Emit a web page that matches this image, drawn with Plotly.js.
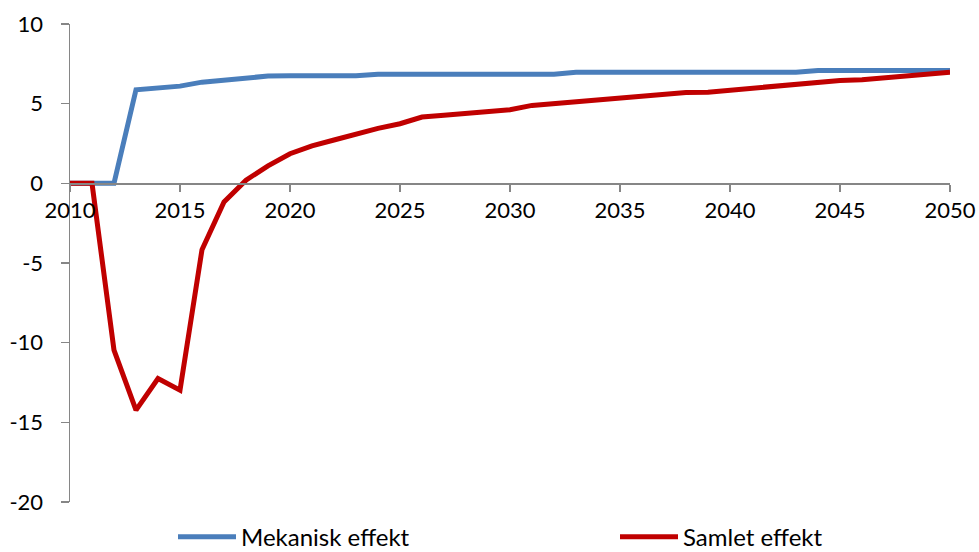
<!DOCTYPE html>
<html>
<head>
<meta charset="utf-8">
<script src="https://cdn.plot.ly/plotly-3.0.1.min.js"></script>
<style>html,body{margin:0;padding:0;background:#fff;}#chart{width:979px;height:552px;}</style>
</head>
<body>
<div id="chart"></div>
<script>
const years = [];
for (let y = 2010; y <= 2050; y++) years.push(y);

const mekaniskName = "Mekanisk effekt";
const samletName = "Samlet effekt";

const mekanisk = [0, 0, 0, 5.87, 6.0, 6.1, 6.35, 6.5, 6.62, 6.73,
  6.75, 6.75, 6.75, 6.75, 6.85, 6.85, 6.85, 6.85, 6.85, 6.85,
  6.85, 6.85, 6.85, 6.97, 6.97, 6.97, 6.97, 6.97, 6.97, 6.97,
  6.97, 6.97, 6.97, 6.97, 7.08, 7.08, 7.08, 7.08, 7.08, 7.08, 7.08];

const samlet = [0, 0, -10.47, -14.23, -12.25, -12.98, -4.16, -1.17, 0.2, 1.1,
  1.86, 2.35, 2.72, 3.1, 3.45, 3.74, 4.16, 4.28, 4.4, 4.51,
  4.62, 4.89, 5.0, 5.1, 5.2, 5.31, 5.42, 5.55, 5.7, 5.72,
  5.85, 5.97, 6.1, 6.22, 6.35, 6.46, 6.5, 6.62, 6.75, 6.87, 6.98];

const xTicks = [2010, 2015, 2020, 2025, 2030, 2035, 2040, 2045, 2050];
const yTicks = [10, 5, 0, -5, -10, -15, -20];

const fontFam = "Lato, 'Open Sans', sans-serif";

const traces = [
  {x: years, y: mekanisk, name: mekaniskName, type: 'scatter', mode: 'lines',
   line: {color: '#4A7EBB', width: 5}, legend: 'legend'},
  {x: years, y: samlet, name: samletName, type: 'scatter', mode: 'lines',
   line: {color: '#C00000', width: 5}, legend: 'legend2'}
];

const legendBase = {
  orientation: 'h', xref: 'container', yref: 'container', xanchor: 'left',
  y: 0.027, yanchor: 'middle', itemwidth: 58,
  font: {family: fontFam, size: 24, color: '#000'}, bgcolor: 'rgba(0,0,0,0)'
};

const layout = {
  width: 979, height: 552,
  margin: {l: 70, r: 29, t: 24, b: 50},
  paper_bgcolor: '#fff', plot_bgcolor: '#fff',
  font: {family: fontFam, size: 22, color: '#000'},
  showlegend: true,
  legend: Object.assign({}, legendBase, {x: 173 / 979}),
  legend2: Object.assign({}, legendBase, {x: 615 / 979}),
  xaxis: {range: [2010, 2050], tickvals: xTicks, ticktext: xTicks.map(String),
    showgrid: false, zeroline: false, showline: true, linecolor: '#868686', linewidth: 1.5,
    ticks: 'outside', ticklen: 7, tickcolor: '#868686', tickwidth: 1.5,
    anchor: 'free', position: 2 / 3, tickfont: {size: 22}},
  yaxis: {range: [-20, 10], tickvals: yTicks, ticktext: yTicks.map(String),
    showgrid: false, zeroline: false, showline: true, linecolor: '#868686', linewidth: 1.5,
    ticks: 'outside', ticklen: 8, tickcolor: '#868686', tickwidth: 1.5,
    ticklabelstandoff: 13, tickfont: {size: 22}}
};

Plotly.newPlot('chart', traces, layout, {displayModeBar: false, staticPlot: true});
</script>
</body>
</html>
